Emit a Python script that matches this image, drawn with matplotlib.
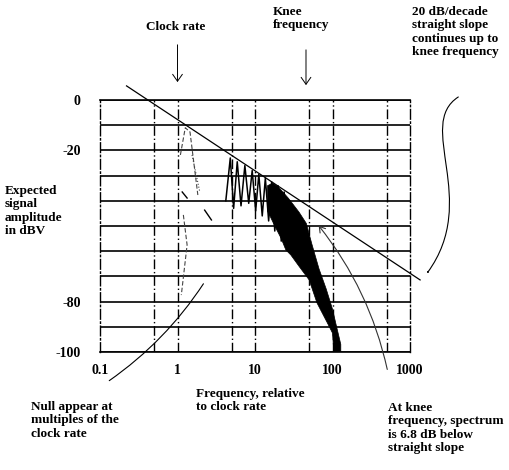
import numpy as np
import matplotlib.pyplot as plt
from matplotlib.path import Path
from matplotlib.patches import FancyArrowPatch

plt.rcParams['font.family'] = ['Liberation Serif', 'DejaVu Serif']
plt.rcParams['font.weight'] = 'bold'
FS = 9.5

# 20 dB/decade straight slope, end points
slope_f = [0.22, 1350]
slope_db = [5.6, -71.4]

# separate lobes above 4x clock rate: nulls and peaks
null_f = [4.2, 5.3, 6.6, 8.3, 10.2, 12.4, 15, 18, 21.8, 26]
null_db = [-40, -43, -42, -41, -44, -46, -48, -52, -56, -59]
peak_f = [4.8, 5.9, 7.4, 9.2, 11.2, 13.6, 16.4, 19.8, 23.8]
peak_db = [-23, -24.5, -26, -28, -29.5, -31, -32.5, -34, -36.5]

# dense part of the spectrum, upper and lower edge of the black band
top_f = [14.5, 17, 20, 27, 37, 46, 54, 67, 83, 100, 113, 128]
top_db = [-34, -33, -34.5, -39, -44.5, -49, -57, -67, -75, -83, -90, -97]
bot_f = [14.5, 18, 21.8, 25, 29, 37, 50, 63, 86, 100, 104, 128]
bot_db = [-44, -50, -55, -59.5, -61.5, -66, -71.4, -80.5, -88.5, -92.5, -100, -100]

# faint dashed traces around the clock rate
lobe_f = [1.09, 1.26, 1.45, 1.83]
lobe_db = [-21.8, -11, -12.7, -37.7]
lobe2_f = [1.54, 1.94]
lobe2_db = [-21.8, -36.5]
bow_f = [1.19, 1.33, 1.12]
bow_db = [-45.6, -57.5, -77.4]
seg1_f = [1.15, 1.33]
seg1_db = [-36.5, -38.9]
seg2_f = [2.24, 2.74]
seg2_db = [-43.7, -47.6]

h_grid = [0, -10, -20, -30, -40, -50, -60, -70, -80, -90, -100]
v_grid = [0.5, 1, 5, 10, 50, 100, 500]
ytick_vals = [0, -20, -80, -100]
xtick_vals = [0.1, 1, 10, 100, 1000]
xtick_text = ['0.1', '1', '10', '100', '1000']

W, H = 509, 470
fig = plt.figure(figsize=(W / 100, H / 100), dpi=100)
ax = fig.add_axes([100 / W, 1 - 352 / H, 310 / W, 252 / H])
ax.set_xscale('log')
ax.set_xlim(0.1, 1000)
ax.set_ylim(-100, 0)

for y in h_grid:
    ax.axhline(y, color='black', lw=1.2, zorder=1)
for x in v_grid:
    ax.axvline(x, color='black', lw=1.0, ls=(0, (7, 2, 1, 2)), zorder=1)

for side in ['left', 'right']:
    ax.spines[side].set_linestyle((0, (7, 2, 1, 2)))
    ax.spines[side].set_linewidth(1.0)
for side in ['top', 'bottom']:
    ax.spines[side].set_linewidth(1.2)

ax.set_yticks(ytick_vals, [str(v) for v in ytick_vals])
ax.set_xticks(xtick_vals, xtick_text)
ax.minorticks_off()
ax.tick_params(axis='y', length=0, pad=14, labelsize=FS + 0.5)
ax.tick_params(axis='x', length=0, pad=9, labelsize=FS + 0.5)

# slope line runs past the frame
ax.plot(slope_f, slope_db, color='black', lw=0.9, clip_on=False, zorder=4)

# lobes as zigzag between nulls and peaks
zig_f = np.ravel(np.column_stack([null_f[:-1], peak_f]))
zig_db = np.ravel(np.column_stack([null_db[:-1], peak_db]))
zig_f = np.append(zig_f, null_f[-1])
zig_db = np.append(zig_db, null_db[-1])
ax.plot(zig_f, zig_db, color='black', lw=1.1, zorder=3)

band_f = np.r_[top_f, bot_f[::-1]]
band_db = np.r_[top_db, bot_db[::-1]]
ax.fill(band_f, band_db, color='black', lw=0.5, zorder=3)

faint = dict(color='#444444', lw=0.8, ls=(0, (4, 2)), zorder=2)
ax.plot(lobe_f, lobe_db, **faint)
ax.plot(lobe2_f, lobe2_db, color='#444444', lw=0.8, ls=':', zorder=2)
ax.plot(bow_f, bow_db, **faint)
ax.plot(seg1_f, seg1_db, color='black', lw=1.0, zorder=2)
ax.plot(seg2_f, seg2_db, color='black', lw=1.0, zorder=2)

# arrows and leaders
head = '->,head_length=0.5,head_width=0.35'
ax.annotate('', xy=(1, 6), xytext=(1, 23), annotation_clip=False,
            arrowprops=dict(arrowstyle=head, color='black', lw=0.7))
ax.annotate('', xy=(45.5, 4.8), xytext=(45.5, 21), annotation_clip=False,
            arrowprops=dict(arrowstyle=head, color='black', lw=0.7))
ax.annotate('', xy=(2.26, -72), xytext=(0.123, -112), annotation_clip=False,
            arrowprops=dict(arrowstyle='-', color='black', lw=0.8,
                            connectionstyle='arc3,rad=0.1'))
ax.annotate('', xy=(63, -49), xytext=(518, -108), annotation_clip=False,
            arrowprops=dict(arrowstyle='->,head_length=0.4,head_width=0.25',
                            color='#333333', lw=0.8,
                            connectionstyle='arc3,rad=0.12'))
s_path = Path([(4200, 1.2), (1161, -9.9), (8110, -39.7), (1663, -68.7)],
              [Path.MOVETO, Path.CURVE4, Path.CURVE4, Path.CURVE4])
s_arrow = FancyArrowPatch(path=s_path, arrowstyle=head, color='black', lw=0.8,
                          transform=ax.transData, clip_on=False)
ax.add_patch(s_arrow)


def put(x, y, s, **kw):
    fig.text(x / W, 1 - y / H, s, fontsize=FS, va='top', linespacing=1.15, **kw)


put(176, 21, 'Clock rate', ha='center')
put(273, 6, 'Knee\nfrequency')
put(412, 6, '20 dB/decade\nstraight slope\ncontinues up to\nknee frequency')
put(5, 185, 'Expected\nsignal\namplitude\nin dBV')
put(31, 401, 'Null appear at\nmultiples of the\nclock rate')
put(196, 388, 'Frequency, relative\nto clock rate')
put(388, 402, 'At knee\nfrequency, spectrum\nis 6.8 dB below\nstraight slope')

fig.savefig('out.png', dpi=100)
